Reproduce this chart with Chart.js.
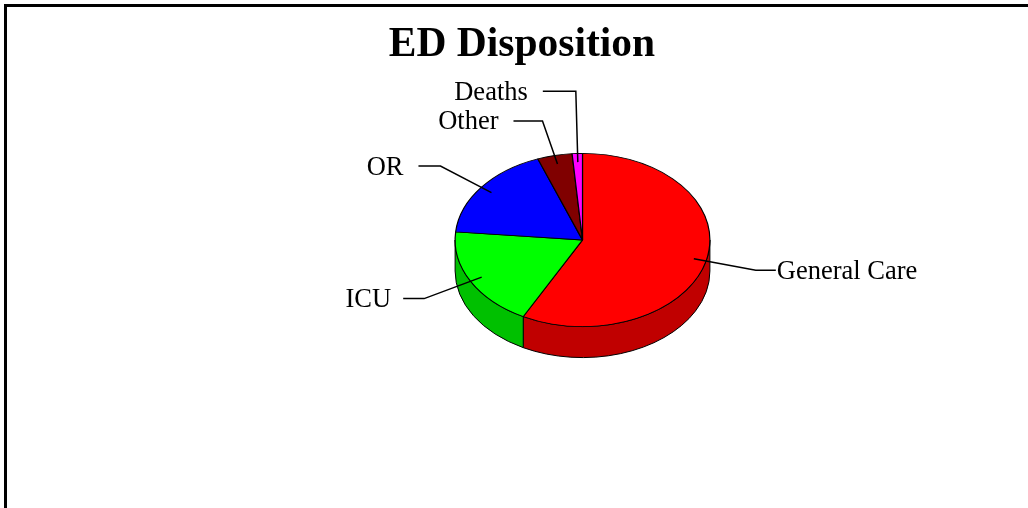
<!DOCTYPE html>
<html>
<head>
<meta charset="utf-8">
<style>html,body{margin:0;padding:0;background:#fff;overflow:hidden}canvas{display:block}</style>
<script src="https://cdn.jsdelivr.net/npm/chart.js@4"></script>
</head>
<body>
<canvas id="c" width="1028" height="508"></canvas>
<script>
const categories = ["General Care", "ICU", "OR", "Other", "Deaths"];
const values = [57.7, 18.8, 17.8, 4.4, 1.3];
const topColors = ["#FF0000", "#00FF00", "#0000FF", "#800000", "#FF00FF"];
const sideColors = ["#C00000", "#00C000", "#0000C0", "#600000", "#C000C0"];
const chartTitle = "ED Disposition";

// layout of the callouts (offset of the knee from the slice anchor, length of the horizontal run)
const kneeOffsets = [[62, 11.5], [-57.5, 21.5], [-51, -26.5], [-15, -43], [-2, -71]];
const runLengths = [20, -21, -22, -29, -33];
const textGaps = [1, 12, 15, 15, 15];

const SQUASH = 87 / 128;
const DEPTH = 31;
const FONT = '26.5px "Liberation Serif"';

const pie3d = {
  id: "pie3d",
  afterLayout(chart) {
    // the title block is centred on the slide, not on the pie's padded area
    chart.titleBlock.left = 322;
    chart.titleBlock.right = 722;
  },
  beforeDraw(chart) {
    const ctx = chart.ctx;
    ctx.save();
    ctx.fillStyle = "#fff";
    ctx.fillRect(0, 0, chart.width, chart.height);
    ctx.fillStyle = "#000";
    ctx.fillRect(4, 4, chart.width - 4, 3);
    ctx.fillRect(4, 4, 3, chart.height - 4);
    ctx.restore();
  },
  beforeDatasetsDraw(chart) {
    const ctx = chart.ctx;
    const arcs = chart.getDatasetMeta(0).data;
    ctx.save();
    arcs.forEach((arc, i) => {
      const a1 = Math.max(arc.startAngle, 0);
      const a2 = Math.min(arc.endAngle, Math.PI);
      if (a2 <= a1) return;
      const rx = arc.outerRadius, ry = rx * SQUASH;
      ctx.beginPath();
      ctx.ellipse(arc.x, arc.y, rx, ry, 0, a1, a2);
      ctx.ellipse(arc.x, arc.y + DEPTH, rx, ry, 0, a2, a1, true);
      ctx.closePath();
      ctx.fillStyle = sideColors[i];
      ctx.fill();
      ctx.strokeStyle = "#000";
      ctx.lineWidth = 1;
      ctx.stroke();
    });
    ctx.restore();
    const a = arcs[0];
    ctx.save();
    ctx.translate(a.x, a.y);
    ctx.scale(1, SQUASH);
    ctx.translate(-a.x, -a.y);
  },
  afterDatasetsDraw(chart) {
    const ctx = chart.ctx;
    ctx.restore();
    const arcs = chart.getDatasetMeta(0).data;
    ctx.save();
    ctx.strokeStyle = "#000";
    ctx.lineWidth = 1.5;
    ctx.fillStyle = "#000";
    ctx.font = FONT;
    ctx.textBaseline = "middle";
    arcs.forEach((arc, i) => {
      const mid = (arc.startAngle + arc.endAngle) / 2;
      const ax = arc.x + 0.9 * arc.outerRadius * Math.cos(mid);
      const ay = arc.y + 0.9 * arc.outerRadius * SQUASH * Math.sin(mid);
      const kx = ax + kneeOffsets[i][0], ky = ay + kneeOffsets[i][1];
      const ex = kx + runLengths[i];
      ctx.beginPath();
      ctx.moveTo(ax, ay);
      ctx.lineTo(kx, ky);
      ctx.lineTo(ex, ky);
      ctx.stroke();
      const right = runLengths[i] > 0;
      ctx.textAlign = right ? "left" : "right";
      ctx.fillText(categories[i], ex + (right ? textGaps[i] : -textGaps[i]), ky + 1.5);
    });
    ctx.restore();
  }
};

new Chart(document.getElementById("c"), {
  type: "pie",
  data: {
    labels: categories,
    datasets: [{
      data: values,
      backgroundColor: topColors,
      borderColor: "#000",
      borderWidth: 1.2,
      borderJoinStyle: "bevel",
      clip: false
    }]
  },
  options: {
    responsive: false,
    animation: false,
    layout: { padding: { left: 454.5, right: 317.5, top: 0, bottom: 140 } },
    plugins: {
      legend: { display: false },
      tooltip: { enabled: false },
      title: {
        display: true,
        text: chartTitle,
        color: "#000",
        font: { family: '"Liberation Serif"', size: 41.5, weight: "bold", lineHeight: "44px" },
        padding: { top: 23.5, bottom: 44.5 }
      }
    }
  },
  plugins: [pie3d]
});
</script>
</body>
</html>
